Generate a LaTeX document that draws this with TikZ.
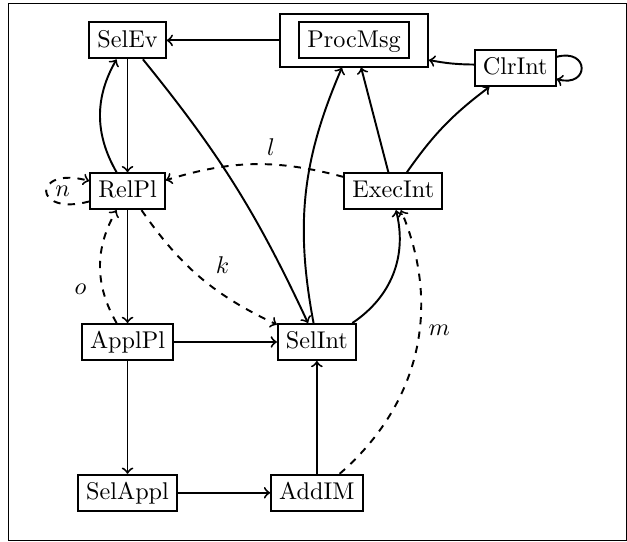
\documentclass[tikz,border=0pt]{standalone}
\usepackage{tikz}
\usetikzlibrary{positioning,fit}

\begin{document}
\begin{tikzpicture}[
    on grid,
    state/.style={
      draw, thick,
      text height=1.6ex, text depth=.3ex
    },
    outerbox/.style={
      draw, thick, inner xsep=7.5pt, inner ysep=3pt
    },
    arrow/.style={->, thick},
    dasharrow/.style={->, thick, dashed}
  ]

    \useasboundingbox (-52.7pt,16.7pt) rectangle (206.4pt,-207.2pt);
    \draw[line width=0.4pt] (-49.4pt,15.1pt) rectangle (206pt,-206.8pt);

    \node[state] (selev) at (0,0) {SelEv};
    \node[state, right=3.29cm of selev] (procin) {ProcMsg};
    \node[outerbox, fit=(procin)] (procmsg) {};
    \node[state, below right=0.4cm and 2.34cm of procin] (clrint) {ClrInt};
    \node[state, below=2.19cm of selev] (relpl) {RelPl};
    \node[state, right=3.86cm of relpl] (execint) {ExecInt};
    \node[state, below=2.19cm of relpl] (applpl) {ApplPl};
    \node[state, right=2.75cm of applpl] (selint) {SelInt};
    \node[state, below=2.19cm of applpl] (selappl) {SelAppl};
    \node[state, right=2.75cm of selappl] (addim) {AddIM};

    \draw[arrow] (procmsg) -- (selev);
    \draw[arrow] (selev) -- (relpl);
    \draw[arrow] (relpl) to[bend left=30] (selev);
    \draw[arrow] (selev) to[bend left=7] (selint);
    \draw[arrow] (selint) to[bend left=17] (procmsg);
    \draw[arrow] (execint) -- (procmsg);
    \draw[arrow] (execint) to[bend left=9] (clrint);
    \draw[arrow] (clrint) to[bend left=5] (procmsg);
    \draw[arrow] (clrint) to[loop right, every loop/.style={looseness=3}] (clrint);

    \draw[dasharrow] (execint) to[bend right=16] node[above, pos=0.4] {$l$} (relpl);
    \draw[dasharrow] (relpl)
      to[loop left, every loop/.style={looseness=3, min distance=8.6mm}]
      node[right] {$n$} (relpl);
    \draw[dasharrow] (relpl) to[bend right=15] node[above right, pos=0.55] {$k$} (selint);
    \draw[dasharrow] (applpl) to[bend left=30] node[left=3pt, pos=0.3] {$o$} (relpl);

    \draw[arrow] (relpl) -- (applpl);
    \draw[arrow] (applpl) -- (selint);
    \draw[arrow] (applpl) -- (selappl);
    \draw[arrow] (selappl) -- (addim);
    \draw[arrow] (addim) -- (selint);
    \draw[arrow] (selint) to[bend right=35] (execint);
    \draw[dasharrow] (addim) to[bend right=36] node[right, pos=0.58] {$m$} (execint);

\end{tikzpicture}
\end{document}
